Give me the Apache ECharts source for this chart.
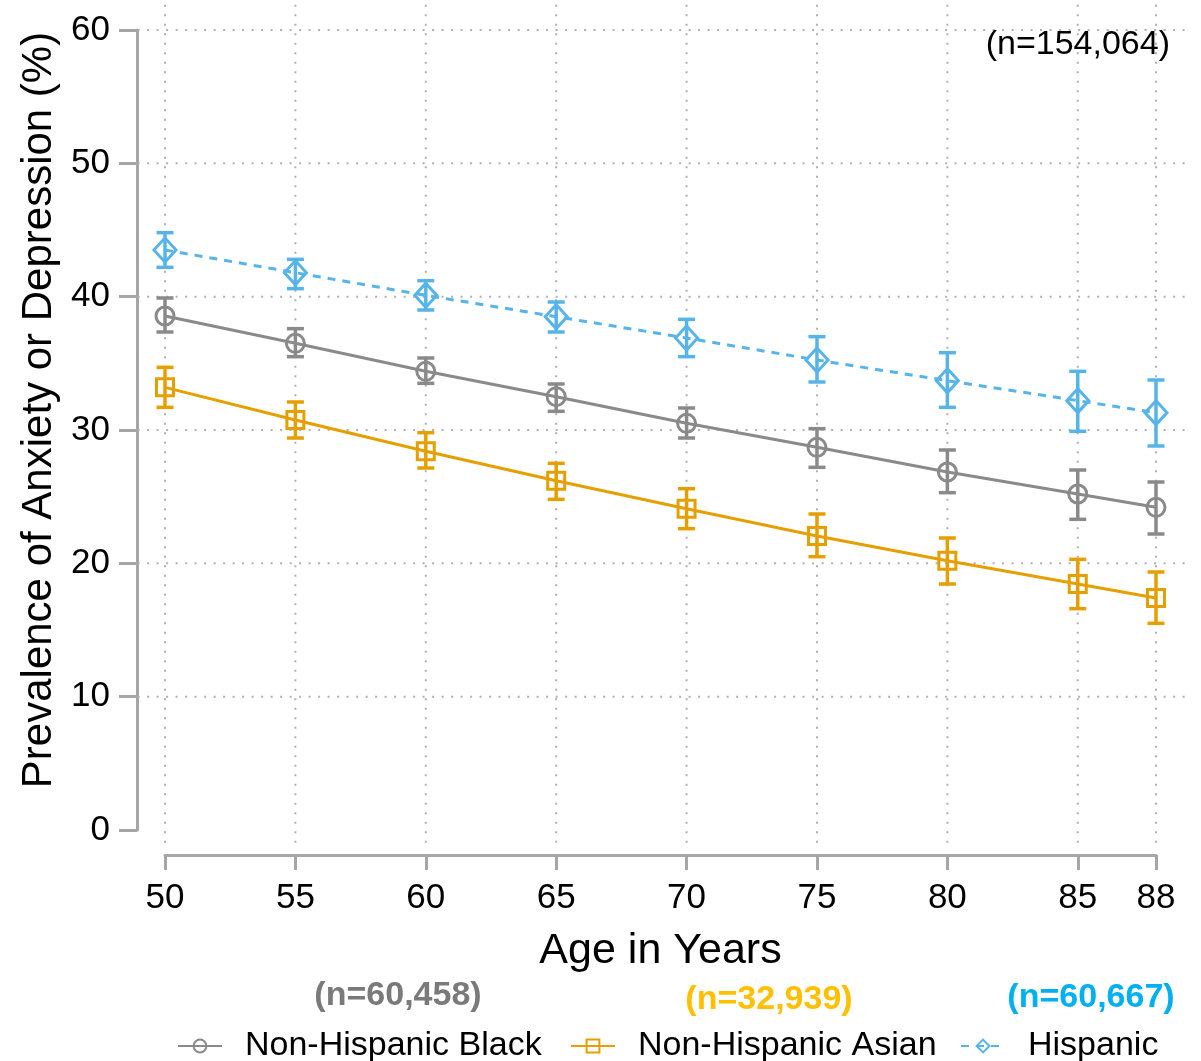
<!DOCTYPE html>
<html>
<head>
<meta charset="utf-8">
<script src="https://cdn.jsdelivr.net/npm/echarts@6/dist/echarts.min.js"></script>
<style>
  html, body { margin: 0; padding: 0; background: #fff; }
  #chart { width: 1201px; height: 1061px; }
</style>
</head>
<body>
<div id="chart"></div>
<script>
// ages on the x axis
const ages = [50, 55, 60, 65, 70, 75, 80, 85, 88];
const xTicks = [50, 55, 60, 65, 70, 75, 80, 85, 88];
const yTicks = [10, 20, 30, 40, 50, 60];

// Non-Hispanic Black
const blackMean = [38.55, 36.5, 34.4, 32.5, 30.5, 28.7, 26.85, 25.2, 24.2];
const blackLow  = [37.35, 35.5, 33.5, 31.4, 29.4, 27.2, 25.3, 23.3, 22.2];
const blackHigh = [39.9, 37.6, 35.4, 33.45, 31.65, 30.1, 28.5, 27.0, 26.1];

// Non-Hispanic Asian
const asianMean = [33.2, 30.75, 28.4, 26.2, 24.1, 22.05, 20.2, 18.45, 17.4];
const asianLow  = [31.7, 29.4, 27.15, 24.8, 22.6, 20.5, 18.45, 16.6, 15.5];
const asianHigh = [34.7, 32.1, 29.8, 27.5, 25.6, 23.7, 21.9, 20.3, 19.35];

// Hispanic
const hispMean = [43.5, 41.8, 40.1, 38.5, 36.9, 35.25, 33.7, 32.2, 31.3];
const hispLow  = [42.2, 40.6, 39.0, 37.35, 35.5, 33.6, 31.7, 29.9, 28.8];
const hispHigh = [44.8, 42.8, 41.2, 39.6, 38.3, 37.0, 35.8, 34.4, 33.75];

const GRAY = '#8a8a8a', ORANGE = '#E69F00', BLUE = '#56B4E9';
const FONT = '"Liberation Sans", Arial, Helvetica, sans-serif';

function pts(means) { return ages.map((a, i) => [a, means[i]]); }
function bars(low, high) { return ages.map((a, i) => [a, low[i], high[i]]); }

function errorBars(name, low, high, color) {
  return {
    name: name + ' CI',
    type: 'custom',
    data: bars(low, high),
    z: 3,
    silent: true,
    renderItem: function (params, api) {
      const lo = api.coord([api.value(0), api.value(1)]);
      const hi = api.coord([api.value(0), api.value(2)]);
      const w = 8.5;
      const st = { stroke: color, lineWidth: 3.5 };
      return {
        type: 'group',
        children: [
          { type: 'line', shape: { x1: lo[0], y1: lo[1], x2: hi[0], y2: hi[1] }, style: st },
          { type: 'line', shape: { x1: lo[0] - w, y1: lo[1], x2: lo[0] + w, y2: lo[1] }, style: st },
          { type: 'line', shape: { x1: hi[0] - w, y1: hi[1], x2: hi[0] + w, y2: hi[1] }, style: st }
        ]
      };
    }
  };
}

function lineSeries(name, means, color, symbol, size, dashed) {
  return {
    name: name,
    type: 'line',
    data: pts(means),
    z: 4,
    symbol: symbol,
    symbolSize: size,
    showAllSymbol: true,
    lineStyle: { color: color, width: 3, type: dashed ? [8, 7] : 'solid' },
    itemStyle: { color: 'rgba(255,255,255,0)', borderColor: color, borderWidth: 3 },
    emphasis: { disabled: true }
  };
}

function legendAt(name, left) {
  return {
    top: 1024,
    left: left,
    itemWidth: 44,
    itemHeight: 16,
    selectedMode: false,
    textStyle: { fontSize: 34, color: '#000', fontFamily: FONT, padding: [0, 0, 0, 18] },
    data: [name]
  };
}

const chart = echarts.init(document.getElementById('chart'));

const option = {
  animation: false,
  backgroundColor: '#fff',
  textStyle: { fontFamily: FONT },
  grid: { left: 165, right: 45, top: 30, bottom: 231, containLabel: false, outerBoundsMode: 'none' },
  xAxis: {
    type: 'value',
    min: 50,
    max: 88,
    interval: 5,
    offset: 25,
    name: 'Age in Years',
    nameLocation: 'middle',
    nameGap: 75,
    nameTextStyle: { fontSize: 43, color: '#000', fontFamily: FONT },
    axisLine: { show: true, onZero: false, lineStyle: { color: '#a6a6a6', width: 3 } },
    axisTick: { show: true, length: 15, lineStyle: { color: '#a6a6a6', width: 3 } },
    axisLabel: {
      fontSize: 35, color: '#000', margin: 26, fontFamily: FONT,
      showMaxLabel: true, showMinLabel: true
    },
    splitLine: { show: false }
  },
  yAxis: {
    type: 'value',
    min: 0,
    max: 60,
    interval: 10,
    offset: 28,
    name: 'Prevalence of Anxiety or Depression (%)',
    nameLocation: 'middle',
    nameGap: 75,
    nameRotate: 90,
    nameTextStyle: { fontSize: 42, color: '#000', fontFamily: FONT, padding: [0, 0, 0, 40] },
    axisLine: { show: true, onZero: false, lineStyle: { color: '#a6a6a6', width: 3 } },
    axisTick: { show: true, length: 18, lineStyle: { color: '#a6a6a6', width: 3 } },
    axisLabel: { fontSize: 35, color: '#000', margin: 27, fontFamily: FONT },
    splitLine: { show: false }
  },
  legend: [
    legendAt('Non-Hispanic Black', 172),
    legendAt('Non-Hispanic Asian', 565),
    legendAt('Hispanic', 955)
  ],
  series: [
    errorBars('Non-Hispanic Black', blackLow, blackHigh, GRAY),
    errorBars('Non-Hispanic Asian', asianLow, asianHigh, ORANGE),
    errorBars('Hispanic', hispLow, hispHigh, BLUE),
    lineSeries('Non-Hispanic Black', blackMean, GRAY, 'circle', 18, false),
    lineSeries('Non-Hispanic Asian', asianMean, ORANGE, 'rect', 17, false),
    lineSeries('Hispanic', hispMean, BLUE, 'diamond', [22, 24], true)
  ]
};

chart.setOption(option);

// dotted grid lines, extended past the data range like the original plot region
const grid = [];
const dot = { stroke: '#b0b0b0', lineWidth: 2, lineDash: [2, 7.5] };
xTicks.forEach(function (x) {
  const a = chart.convertToPixel({ gridIndex: 0 }, [x, 61.9]);
  const b = chart.convertToPixel({ gridIndex: 0 }, [x, -1.1]);
  grid.push({ type: 'line', z: 1, silent: true, shape: { x1: a[0], y1: a[1], x2: b[0], y2: b[1] }, style: dot });
});
yTicks.forEach(function (y) {
  const a = chart.convertToPixel({ gridIndex: 0 }, [48.95, y]);
  const b = chart.convertToPixel({ gridIndex: 0 }, [89.1, y]);
  grid.push({ type: 'line', z: 1, silent: true, shape: { x1: a[0], y1: a[1], x2: b[0], y2: b[1] }, style: dot });
});

const notes = [
  { text: '(n=154,064)', x: 1170, y: 45, color: '#000', weight: 'normal', size: 34, align: 'right' },
  { text: '(n=60,458)', x: 398, y: 996, color: '#7a7a7a', weight: 'bold', size: 34, align: 'center' },
  { text: '(n=32,939)', x: 769, y: 1000, color: '#FFC000', weight: 'bold', size: 34, align: 'center' },
  { text: '(n=60,667)', x: 1091, y: 998, color: '#00B0F0', weight: 'bold', size: 34, align: 'center' }
];
notes.forEach(function (n) {
  grid.push({
    type: 'text', z: 10, silent: true, x: n.x, y: n.y,
    style: {
      text: n.text, fill: n.color, fontSize: n.size, fontWeight: n.weight,
      fontFamily: '"Liberation Sans Narrow", ' + FONT,
      align: n.align, verticalAlign: 'middle'
    }
  });
});

chart.setOption({ graphic: grid });
</script>
</body>
</html>
